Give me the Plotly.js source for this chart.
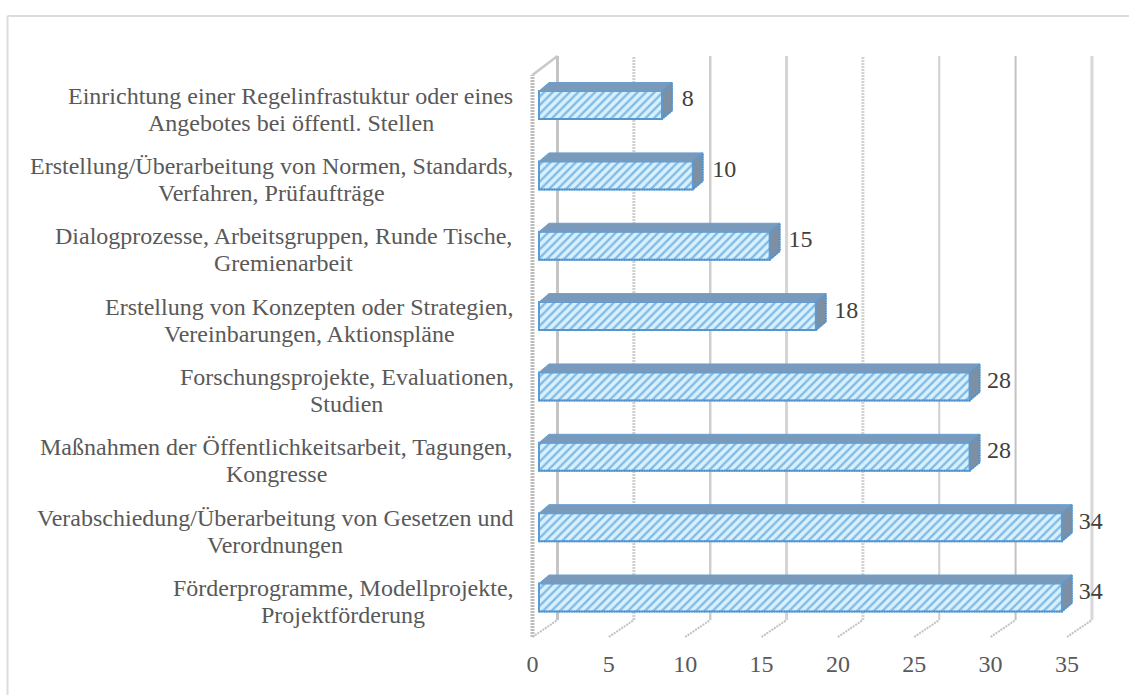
<!DOCTYPE html>
<html>
<head>
<meta charset="utf-8">
<script src="https://cdn.plot.ly/plotly-3.0.1.min.js"></script>
<style>html,body{margin:0;padding:0;background:#fff}</style>
</head>
<body>
<div id="chart" style="width:1129px;height:695px"></div>
<script>
// Data, bottom bar first
const categories = [
  "Förderprogramme, Modellprojekte,<br>Projektförderung",
  "Verabschiedung/Überarbeitung von Gesetzen und<br>Verordnungen",
  "Maßnahmen der Öffentlichkeitsarbeit, Tagungen,<br>Kongresse",
  "Forschungsprojekte, Evaluationen,<br>Studien",
  "Erstellung von Konzepten oder Strategien,<br>Vereinbarungen, Aktionspläne",
  "Dialogprozesse, Arbeitsgruppen, Runde Tische,<br>Gremienarbeit",
  "Erstellung/Überarbeitung von Normen, Standards,<br>Verfahren, Prüfaufträge",
  "Einrichtung einer Regelinfrastuktur oder eines<br>Angebotes bei öffentl. Stellen"
];
const values = [34, 34, 28, 28, 18, 15, 10, 8];
const tickValues = [0, 5, 10, 15, 20, 25, 30, 35];
const gridColors = ["#c4c4c4", "#cfcfcf", "#cdcdcd", "#d4d4d4", "#d2d2d2", "#cfcfcf", "#c2c2c2", "#d8d8d8"];
const gridDashes = ["solid", "2px,1px", "solid", "solid", "2px,1px", "solid", "solid", "solid"];
const gridWidths = [3, 3, 2.5, 3, 3, 2, 2, 3];

// Layout geometry (pixels)
const W = 1129, H = 695, L = 520, R = 1110, T = 40, B = 641;
const x0 = 532.5, sx = 15.27;      // axis scale
const bx0 = 539, bsx = 15.38;      // bar plane scale
const y0 = 597.5, sy = 70.35;      // category scale
const yAt = p => (y0 - p) / sy;
const halfBar = 14 / sy, topDepth = 8.5 / sy, sideDepth = 10 / bsx;
const gridDepth = 25 / sx, valueGap = 27 / sx;
const fontFamily = "Liberation Serif", fontSize = 24, textColor = "#595959";
const labelRight = 513.5, lineGap = 13.5, labelDrop = 4;

const traces = [];
const base = {hoverinfo: "skip", showlegend: false};

// Back-wall gridlines with their slanted floor feet
tickValues.forEach((v, i) => {
  traces.push({...base, type: "scatter", mode: "lines", xaxis: "x", yaxis: "y",
    x: [v + gridDepth, v + gridDepth], y: [yAt(620), yAt(56)],
    line: {color: gridColors[i], width: gridWidths[i], dash: gridDashes[i]}
  });
  traces.push({...base, type: "scatter", mode: "lines", xaxis: "x", yaxis: "y",
    x: [v, v + gridDepth], y: [yAt(637), yAt(620)],
    line: {color: "#c2c2c2", width: 2, dash: "2px,1px"}
  });
});
// Left wall edge
traces.push({...base, type: "scatter", mode: "lines", xaxis: "x", yaxis: "y",
  x: [0, 0], y: [yAt(637), yAt(75)],
  line: {color: "#bcbcbc", width: 4, dash: "2px,1px"}
});
traces.push({...base, type: "scatter", mode: "lines", xaxis: "x", yaxis: "y",
  x: [0, gridDepth], y: [yAt(75), yAt(56)],
  line: {color: "#c8c8c8", width: 2.5}
});
// Value labels
traces.push({...base, type: "scatter", mode: "text", xaxis: "x", yaxis: "y",
  x: values.map(v => v + valueGap),
  y: values.map((_, i) => i + 0.065),
  text: values.map(String), textposition: "middle right",
  textfont: {family: fontFamily, size: fontSize, color: "#404040"}
});

// Front faces of the bars
traces.push({...base, type: "bar", orientation: "h", xaxis: "x2", yaxis: "y",
  y: values.map((_, i) => i), x: values, width: 2 * halfBar,
  marker: {
    color: "#d9f0fd",
    line: {color: "#5b9bd5", width: 2},
    pattern: {shape: "/", fgcolor: "#7fbbe6", bgcolor: "#d9f0fd", size: 6, solidity: 0.38}
  }
});
// Top and side faces, dotted lower edge
values.forEach((v, i) => {
  traces.push({...base, type: "scatter", mode: "lines", fill: "toself", fillcolor: "#7a9abb",
    xaxis: "x2", yaxis: "y",
    x: [0, v, v + sideDepth, sideDepth, 0],
    y: [i + halfBar, i + halfBar, i + halfBar + topDepth, i + halfBar + topDepth, i + halfBar],
    line: {color: "#6a9fd0", width: 1}
  });
  traces.push({...base, type: "scatter", mode: "lines", fill: "toself", fillcolor: "#7c8fa3",
    xaxis: "x2", yaxis: "y",
    x: [v, v + sideDepth, v + sideDepth, v, v],
    y: [i + halfBar, i + halfBar + topDepth, i - halfBar + topDepth, i - halfBar, i + halfBar],
    line: {color: "#5b9bd5", width: 1.5}
  });
  traces.push({...base, type: "scatter", mode: "lines", xaxis: "x2", yaxis: "y",
    x: [0, v, v + sideDepth, v + sideDepth],
    y: [i - halfBar, i - halfBar, i - halfBar + topDepth, i + halfBar + topDepth],
    line: {color: "#4f8fc8", width: 2, dash: "1px,1.5px"}
  });
});

// Category labels: each block is centred and right-aligned to the axis; lines are set tighter than Plotly's default
const ctx = document.createElement("canvas").getContext("2d");
ctx.font = fontSize + "px '" + fontFamily + "'";
const annotations = [];
categories.forEach((c, i) => {
  const lines = c.split("<br>");
  const blockWidth = Math.max(...lines.map(t => ctx.measureText(t).width));
  lines.forEach((t, k) => {
    annotations.push({
      text: t, xref: "paper", x: (labelRight - blockWidth / 2 - L) / (R - L), xanchor: "center",
      yref: "y", y: i, yshift: (k === 0 ? lineGap : -lineGap) - labelDrop, yanchor: "middle",
      showarrow: false,
      font: {family: fontFamily, size: fontSize, color: textColor}
    });
  });
});

const pxX = p => (p - L) / (R - L);
const pxY = p => (B - p) / (B - T);

const layout = {
  width: W, height: H,
  margin: {l: L, r: W - R, t: T, b: H - B, pad: 0},
  paper_bgcolor: "#fff", plot_bgcolor: "rgba(0,0,0,0)",
  showlegend: false, barmode: "overlay",
  font: {family: fontFamily, size: fontSize, color: textColor},
  xaxis: {
    range: [(L - x0) / sx, (R - x0) / sx], tickmode: "array", tickvals: tickValues,
    ticktext: tickValues.map(String), showgrid: false, zeroline: false, showline: false,
    ticks: "outside", ticklen: 1, tickcolor: "rgba(0,0,0,0)",
    tickfont: {family: fontFamily, size: fontSize, color: textColor}
  },
  xaxis2: {
    range: [(L - bx0) / bsx, (R - bx0) / bsx], overlaying: "x", visible: false
  },
  yaxis: {
    range: [yAt(B), yAt(T)], showticklabels: false, showgrid: false, zeroline: false, showline: false, ticks: ""
  },
  annotations: annotations,
  shapes: [
    {type: "line", xref: "paper", yref: "paper", x0: pxX(7.5), x1: pxX(7.5), y0: pxY(16), y1: pxY(695),
     line: {color: "#dcdcdc", width: 2}},
    {type: "line", xref: "paper", yref: "paper", x0: pxX(7.5), x1: pxX(1129), y0: pxY(16), y1: pxY(16),
     line: {color: "#dcdcdc", width: 2}}
  ]
};

Plotly.newPlot("chart", traces, layout, {displayModeBar: false, staticPlot: true});
</script>
</body>
</html>
